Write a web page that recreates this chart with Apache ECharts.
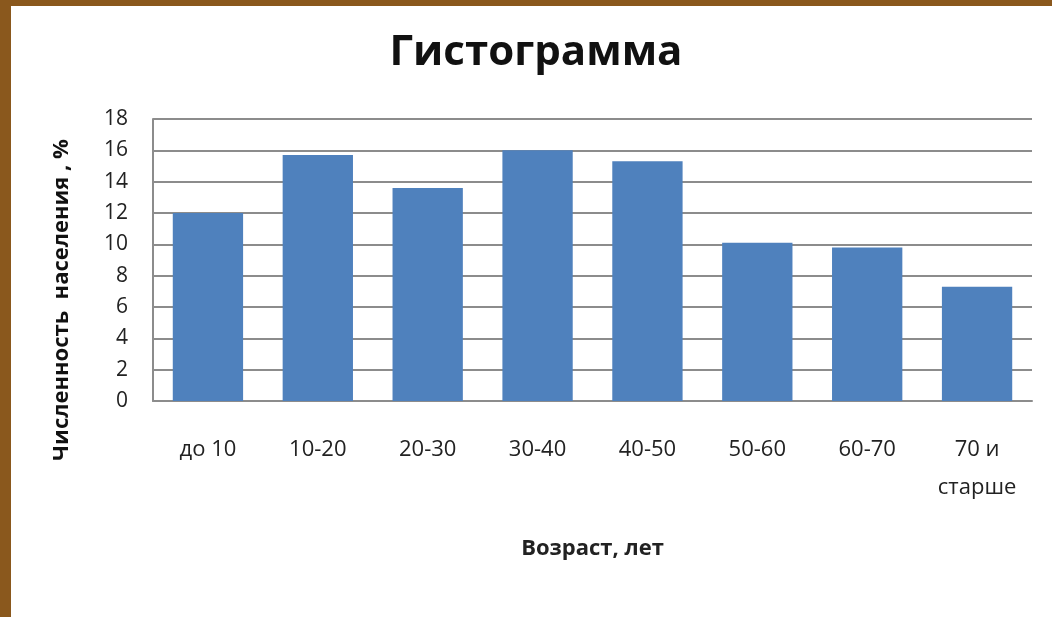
<!DOCTYPE html>
<html>
<head>
<meta charset="utf-8">
<script src="https://cdn.jsdelivr.net/npm/echarts@6/dist/echarts.min.js"></script>
<style>
    html, body { margin: 0; padding: 0; background: #fff; }
    #chart { position: absolute; left: 0; top: 0; width: 1052px; height: 617px; }
    .frame { position: absolute; background: #8a581d; }
</style>
</head>
<body>
<div id="chart"></div>
<div class="frame" style="left:0;top:0;width:11px;height:617px"></div>
<div class="frame" style="left:0;top:0;width:1052px;height:6px"></div>
<script>
const categories = ["до 10", "10-20", "20-30", "30-40", "40-50", "50-60", "60-70", "70 и\nстарше"];
const values = [12.0, 15.7, 13.6, 16.0, 15.3, 10.1, 9.8, 7.3];
const chartTitle = "Гистограмма";
const xName = "Возраст, лет";
const yName = "Численность  населения , %";

const font = "'Open Sans', 'Noto Sans', sans-serif";
const myChart = echarts.init(document.getElementById("chart"));

const option = {
    backgroundColor: "#fff",
    animation: false,
    title: {
        text: chartTitle,
        left: 531,
        top: 27,
        textAlign: "center",
        textStyle: { fontFamily: font, fontSize: 42, fontWeight: "bold", color: "#111" }
    },
    grid: { left: 153, right: 20, top: 119, bottom: 216 },
    xAxis: {
        type: "category",
        data: categories,
        name: xName,
        nameLocation: "middle",
        nameGap: 137,
        nameTextStyle: { fontFamily: font, fontSize: 22, fontWeight: "bold", color: "#222" },
        axisLine: { show: true, lineStyle: { color: "#8c8c8c", width: 2 } },
        axisTick: { show: false },
        axisLabel: {
            margin: 30,
            fontFamily: font,
            fontSize: 22,
            color: "#222",
            lineHeight: 38
        }
    },
    yAxis: {
        type: "value",
        min: 0,
        max: 18,
        interval: 2,
        axisLine: { show: true, lineStyle: { color: "#8c8c8c", width: 2 } },
        axisTick: { show: false },
        axisLabel: { margin: 25, fontFamily: font, fontSize: 21, color: "#222" },
        splitLine: { show: true, lineStyle: { color: "#8c8c8c", width: 2 } }
    },
    graphic: [
        {
            type: "text",
            x: 62,
            y: 300,
            rotation: Math.PI / 2,
            style: {
                text: yName,
                fontFamily: font,
                fontSize: 22,
                fontWeight: "bold",
                fill: "#111",
                align: "center",
                verticalAlign: "middle"
            }
        }
    ],
    series: [
        {
            type: "bar",
            data: values,
            barCategoryGap: "36%",
            itemStyle: { color: "#4f81bd" }
        }
    ]
};
myChart.setOption(option);
</script>
</body>
</html>
